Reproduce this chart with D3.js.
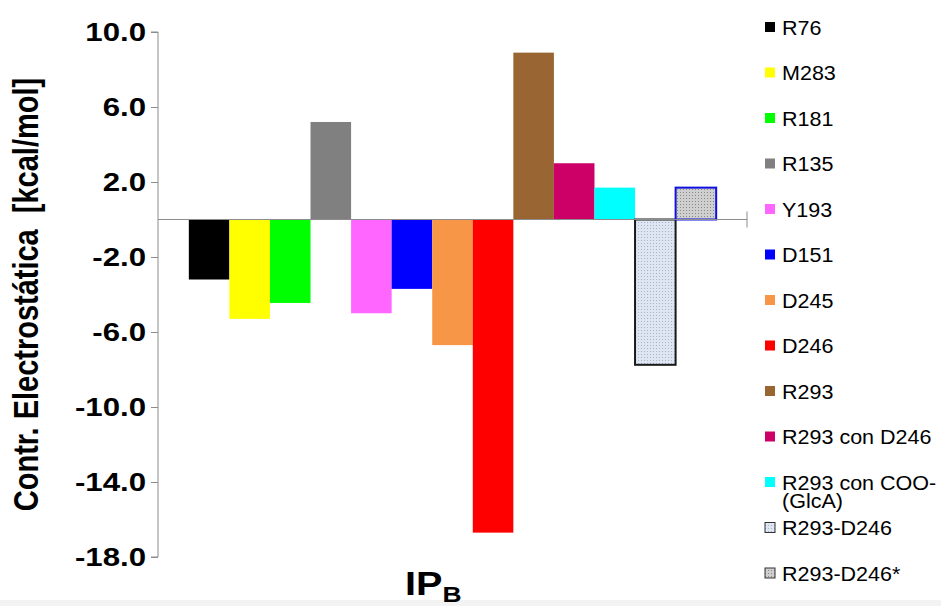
<!DOCTYPE html>
<html><head><meta charset="utf-8">
<script src="https://cdn.jsdelivr.net/npm/d3@7"></script>
<style>html,body{margin:0;padding:0;background:#fff;}svg{display:block;font-family:"Liberation Sans",Arial,sans-serif;}</style>
</head><body>
<script>
const categories = ["IP_B"];
const seriesNames = ["R76","M283","R181","R135","Y193","D151","D245","D246","R293","R293 con D246","R293 con COO-\n(GlcA)","R293-D246","R293-D246*"];
const seriesValues = [-3.2,-5.3,-4.45,5.2,-5.0,-3.7,-6.7,-16.7,8.9,3.0,1.7,-7.75,1.7];
const seriesColors = ["#000000","#ffff00","#00ff00","#808080","#ff66ff","#0000ff","#f79646","#ff0000","#996633","#cc0066","#00ffff","url(#patA)","url(#patB)"];
const seriesStroke = [null,null,null,null,null,null,null,null,null,null,null,"#1a1a1a","#1010e0"];
const yTicks = [10,6,2,-2,-6,-10,-14,-18];

const W = 941, H = 606;
const svg = d3.select("body").append("svg").attr("width", W).attr("height", H);
const defs = svg.append("defs");
function dotPattern(id, bg, dot){
  const p = defs.append("pattern").attr("id", id).attr("patternUnits","userSpaceOnUse").attr("width",3).attr("height",3);
  p.append("rect").attr("width",3).attr("height",3).attr("fill",bg);
  p.append("rect").attr("width",1).attr("height",1).attr("fill",dot);
}
dotPattern("patA", "#dde6f2", "#a9b4c4");
dotPattern("patB", "#cfcfcf", "#8a8a8a");

svg.append("rect").attr("x",0).attr("y",600).attr("width",W).attr("height",6).attr("fill","#f3f3f3");

const pL = 158, pR = 747, pT = 32, pB = 557;
const y = d3.scaleLinear().domain([-18, 10]).range([pB, pT]);
const x0 = d3.scaleBand().domain(categories).range([pL, pR]);
const x1 = d3.scaleBand().domain(seriesNames).range([0, x0.bandwidth()]).paddingOuter(0.76).paddingInner(0);

const sx = 1.2;
// y axis
const yAxis = d3.axisLeft(y).tickValues(yTicks).tickSize(7).tickFormat(d => d.toFixed(1));
const ga = svg.append("g").attr("transform", `translate(${pL},0)`).call(yAxis);
ga.select(".domain").attr("stroke","#8c8c8c").attr("d", `M-7,${y(10)}H0V${y(-18)}H-7`);
ga.selectAll(".tick line").attr("stroke","#8c8c8c");
ga.selectAll(".tick text").remove();
yTicks.forEach(t => {
  svg.append("text").attr("transform", `translate(${pL-12},${y(t)+9}) scale(${sx},1)`)
    .attr("text-anchor","end").attr("font-size",26).attr("font-weight","bold").attr("fill","#000")
    .text(t.toFixed(1));
});

// bars
const g = svg.append("g").attr("transform", `translate(${x0(categories[0])},0)`);
g.selectAll("rect.bar").data(seriesValues).join("rect").attr("class","bar")
  .attr("x", (d,i) => x1(seriesNames[i]))
  .attr("width", x1.bandwidth())
  .attr("y", d => y(Math.max(0,d)))
  .attr("height", d => Math.abs(y(d)-y(0)))
  .attr("fill", (d,i) => seriesColors[i])
  .attr("stroke", (d,i) => seriesStroke[i] || "none")
  .attr("stroke-width", 2);

// zero (category) axis
svg.append("line").attr("x1",pL).attr("x2",pR).attr("y1",y(0)).attr("y2",y(0)).attr("stroke","#8c8c8c").attr("stroke-width",1);
svg.append("line").attr("x1",pR).attr("x2",pR).attr("y1",y(0)-8).attr("y2",y(0)+8).attr("stroke","#8c8c8c").attr("stroke-width",1);

// y title
svg.append("text").attr("transform", `translate(38,${(pT+pB)/2}) rotate(-90) scale(1,${sx})`)
  .attr("text-anchor","middle").attr("font-size",29).attr("font-weight","bold").attr("fill","#000")
  .attr("xml:space","preserve")
  .text("Contr. Electrostática  [kcal/mol]");

// x label
const xl = svg.append("text").attr("transform", `translate(405,595) scale(${sx},1)`)
  .attr("font-size",33).attr("font-weight","bold").attr("fill","#000");
xl.append("tspan").text("IP");
xl.append("tspan").attr("font-size",22).attr("dy",7).text("B");

// legend
const lg = svg.append("g");
seriesNames.forEach((name,i) => {
  const cy = 27 + 45.5*i;
  lg.append("rect").attr("x",765).attr("y",cy-5).attr("width",10).attr("height",10)
    .attr("fill", seriesColors[i]).attr("stroke", seriesStroke[i] ? "#333" : "none").attr("stroke-width",1);
  const lines = name.split("\n");
  lines.forEach((ln,k) => {
    lg.append("text").attr("transform", `translate(782,${cy+7.5+k*18}) scale(1.05,1)`)
      .attr("font-size",20.5).attr("fill","#000").text(ln);
  });
});
</script>
</body></html>
